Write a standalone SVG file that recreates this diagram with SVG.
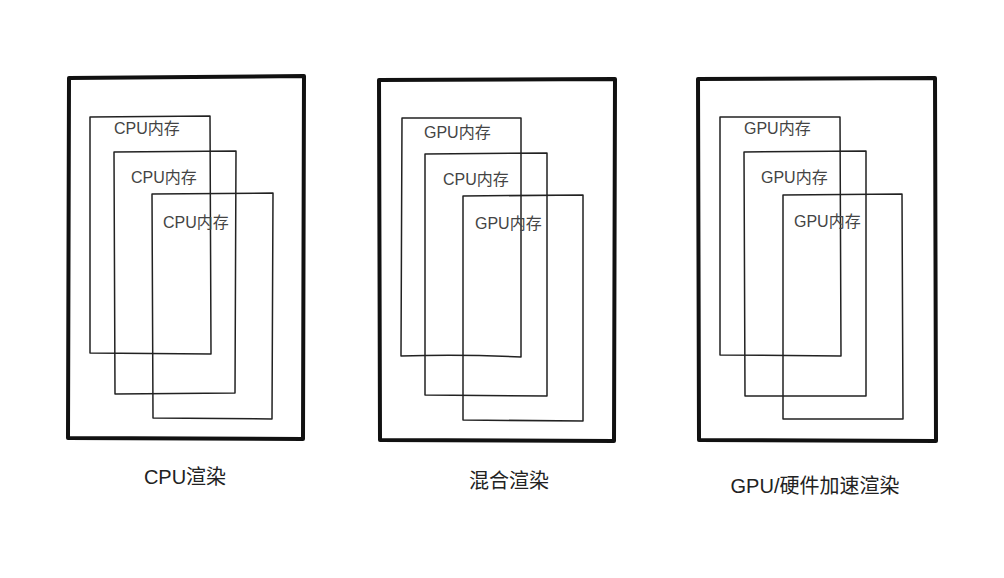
<svg xmlns="http://www.w3.org/2000/svg" width="1004" height="578" viewBox="0 0 1004 578">
<style>
.outer{fill:none;stroke:#111;stroke-width:4;stroke-linecap:round;stroke-linejoin:round}
.inner{fill:none;stroke:#222;stroke-width:1.5;stroke-linecap:round;stroke-linejoin:round}
.lbl{font-family:"Liberation Sans","Noto Sans CJK SC",sans-serif;font-size:16px;fill:#444}
.cap{font-family:"Liberation Sans","Noto Sans CJK SC",sans-serif;font-size:20px;fill:#222;text-anchor:middle}
</style>
<rect width="1004" height="578" fill="#fff"/>

<g id="panel-cpu">
  <path class="outer" d="M69,78 L304,76 L303,439 L68,438 Z"/>
  <g id="cpu-mem-1">
    <path class="inner" d="M90,117 L210,116 L211,354 L90,353 Z"/>
    <text class="lbl" x="114" y="134">CPU内存</text>
  </g>
  <g id="cpu-mem-2">
    <path class="inner" d="M114,152 L236,151 L235,393 L115,394 Z"/>
    <text class="lbl" x="131" y="183">CPU内存</text>
  </g>
  <g id="cpu-mem-3">
    <path class="inner" d="M152,194 L273,193 L272,419 L153,418 Z"/>
    <text class="lbl" x="163" y="228">CPU内存</text>
  </g>
  <text class="cap" x="185" y="484">CPU渲染</text>
</g>

<g id="panel-mixed">
  <path class="outer" d="M379,80 L615,79 L614,441 L380,440 Z"/>
  <g id="mixed-gpu-mem-1">
    <path class="inner" d="M402,118 L521,118 L521,357 Q460,354 401,356 Z"/>
    <text class="lbl" x="424" y="138">GPU内存</text>
  </g>
  <g id="mixed-cpu-mem">
    <path class="inner" d="M425,154 L547,153 L547,396 L425,395 Z"/>
    <text class="lbl" x="443" y="185">CPU内存</text>
  </g>
  <g id="mixed-gpu-mem-2">
    <path class="inner" d="M463,196 L583,195 L583,421 L463,420 Z"/>
    <text class="lbl" x="475" y="229">GPU内存</text>
  </g>
  <text class="cap" x="509" y="488">混合渲染</text>
</g>

<g id="panel-gpu">
  <path class="outer" d="M698,79 L935,78 L936,441 L699,440 Z"/>
  <g id="gpu-mem-1">
    <path class="inner" d="M720,117 L840,117 L841,356 L720,355 Z"/>
    <text class="lbl" x="744" y="134">GPU内存</text>
  </g>
  <g id="gpu-mem-2">
    <path class="inner" d="M744,152 L866,151 L866,396 L745,396 Z"/>
    <text class="lbl" x="761" y="183">GPU内存</text>
  </g>
  <g id="gpu-mem-3">
    <path class="inner" d="M783,195 L902,194 L903,419 L783,419 Z"/>
    <text class="lbl" x="794" y="227">GPU内存</text>
  </g>
  <text class="cap" x="815" y="493">GPU/硬件加速渲染</text>
</g>
</svg>
